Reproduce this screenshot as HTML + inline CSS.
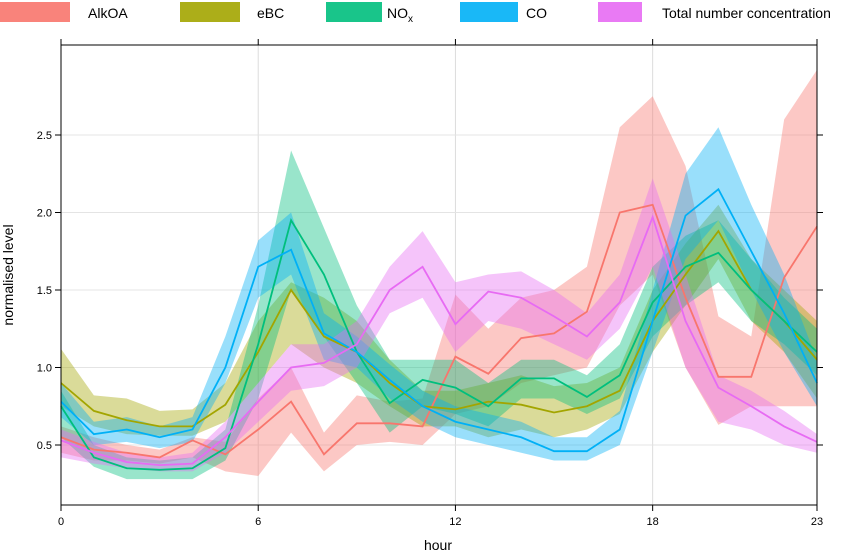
<!DOCTYPE html>
<html><head><meta charset="utf-8"><style>
body{margin:0;background:#fff;font-family:"Liberation Sans",sans-serif;}
svg text{font-family:"Liberation Sans",sans-serif;}
</style></head><body>
<svg id="chart" width="849" height="552" xmlns="http://www.w3.org/2000/svg">
<g id="grid"></g>
<g id="bands"></g>
<g id="lines"></g>
<g id="axes"></g>
<g id="legend"></g>
<text x="438" y="550" font-size="14" text-anchor="middle">hour</text>
<text transform="translate(13,275) rotate(-90)" font-size="14" text-anchor="middle">normalised level</text>
</svg>
<script>
const hours=[0,1,2,3,4,5,6,7,8,9,10,11,12,13,14,15,16,17,18,19,20,21,22,23];
const seriesNames=["AlkOA","eBC","NOx","CO","Total number concentration"];
const seriesColors=["#F8766D","#A3A500","#00BF7D","#00B0F6","#E76BF3"];
const alkMean=[0.55,0.47,0.45,0.42,0.53,0.44,0.6,0.78,0.44,0.64,0.64,0.62,1.07,0.96,1.19,1.22,1.36,2.0,2.05,1.45,0.94,0.94,1.58,1.91];
const alkLo=[0.45,0.4,0.4,0.38,0.42,0.33,0.3,0.58,0.33,0.5,0.52,0.5,0.7,0.75,0.9,0.95,1.0,1.4,1.6,1.0,0.63,0.75,0.75,0.75];
const alkHi=[0.62,0.55,0.5,0.47,0.55,0.52,0.8,1.0,0.58,0.82,0.78,0.8,1.47,1.25,1.45,1.5,1.65,2.55,2.75,2.3,1.33,1.2,2.6,2.92];
const ebcMean=[0.9,0.72,0.66,0.62,0.62,0.76,1.1,1.5,1.2,1.1,0.9,0.75,0.73,0.78,0.76,0.71,0.75,0.85,1.3,1.6,1.88,1.5,1.3,1.05];
const ebcLo=[0.75,0.62,0.57,0.56,0.56,0.65,0.9,1.15,1.0,0.9,0.75,0.62,0.62,0.55,0.6,0.55,0.6,0.7,1.1,1.4,1.7,1.3,1.1,0.8];
const ebcHi=[1.12,0.82,0.8,0.72,0.73,0.9,1.3,1.55,1.45,1.3,1.05,0.85,0.85,0.9,0.95,0.88,0.9,1.0,1.5,1.8,2.05,1.7,1.5,1.3];
const noxMean=[0.75,0.42,0.35,0.34,0.35,0.48,1.15,1.95,1.6,1.1,0.77,0.92,0.87,0.75,0.93,0.93,0.81,0.95,1.42,1.65,1.74,1.5,1.3,1.1];
const noxLo=[0.55,0.36,0.28,0.28,0.28,0.4,0.8,1.5,1.2,0.9,0.58,0.75,0.7,0.62,0.8,0.8,0.7,0.8,1.2,1.4,1.55,1.3,1.15,0.95];
const noxHi=[0.85,0.5,0.42,0.4,0.42,0.6,1.4,2.4,1.9,1.4,1.05,1.05,1.05,0.9,1.05,1.05,0.95,1.15,1.65,1.85,1.95,1.7,1.45,1.25];
const coMean=[0.78,0.57,0.6,0.55,0.6,1.0,1.65,1.76,1.22,1.1,0.92,0.75,0.65,0.6,0.55,0.46,0.46,0.6,1.3,1.98,2.15,1.75,1.35,0.9];
const coLo=[0.68,0.5,0.52,0.48,0.52,0.9,1.45,1.6,1.05,1.0,0.8,0.65,0.55,0.5,0.45,0.4,0.4,0.5,1.1,1.7,1.95,1.5,1.1,0.75];
const coHi=[0.9,0.65,0.68,0.62,0.68,1.2,1.82,2.0,1.35,1.2,1.02,0.85,0.75,0.7,0.65,0.55,0.55,0.72,1.5,2.25,2.55,2.05,1.6,1.05];
const totMean=[0.53,0.45,0.39,0.37,0.38,0.55,0.78,1.0,1.03,1.15,1.5,1.65,1.28,1.49,1.45,1.33,1.2,1.42,1.97,1.3,0.87,0.75,0.62,0.52];
const totLo=[0.42,0.38,0.35,0.33,0.33,0.45,0.65,0.85,0.88,1.0,1.35,1.45,1.1,1.3,1.25,1.15,1.05,1.25,1.65,1.0,0.65,0.6,0.5,0.45];
const totHi=[0.6,0.52,0.45,0.42,0.45,0.65,0.9,1.15,1.15,1.3,1.65,1.88,1.55,1.6,1.62,1.5,1.35,1.6,2.22,1.6,0.95,0.85,0.72,0.57];
const xTicks=[0,6,12,18,23];
const yTicks=[0.5,1.0,1.5,2.0,2.5];
const yTickLabels=["0.5","1.0","1.5","2.0","2.5"];

const NS="http://www.w3.org/2000/svg";
const X0=61,X1=817,YT=45,YB=505;
const xs=h=>X0+(X1-X0)*h/23;
const ys=v=>522.5-155*v;
function mk(tag,attrs,parent){const e=document.createElementNS(NS,tag);for(const k in attrs)e.setAttribute(k,attrs[k]);parent.appendChild(e);return e;}
const grid=document.getElementById('grid'),axes=document.getElementById('axes'),bands=document.getElementById('bands'),lines=document.getElementById('lines'),legend=document.getElementById('legend');
xTicks.forEach(t=>{if(t>0&&t<23){const l=mk('line',{x1:xs(t),x2:xs(t),y1:YT,y2:YB,stroke:'#dcdcdc','stroke-width':1},grid);

}});
yTicks.forEach(t=>{const l=mk('line',{x1:X0,x2:X1,y1:ys(t),y2:ys(t),stroke:'#e4e4e4','stroke-width':1},grid);

});
const means=[alkMean,ebcMean,noxMean,coMean,totMean],los=[alkLo,ebcLo,noxLo,coLo,totLo],his=[alkHi,ebcHi,noxHi,coHi,totHi];
const keys=["alkoa","ebc","nox","co","total"];
means.forEach((m,i)=>{
 let d='M'+hours.map(h=>xs(h)+','+ys(his[i][h])).join('L')+'L'+hours.slice().reverse().map(h=>xs(h)+','+ys(los[i][h])).join('L')+'Z';
 const b=mk('path',{d:d,fill:seriesColors[i],'fill-opacity':0.4,stroke:'none'},bands);
 
 
 const p=mk('polyline',{points:hours.map(h=>xs(h)+','+ys(m[h])).join(' '),fill:'none',stroke:seriesColors[i],'stroke-width':1.8},lines);
 
 
});
const box=mk('rect',{x:X0,y:YT,width:X1-X0,height:YB-YT,fill:'none',stroke:'#000','stroke-width':1},axes);


xTicks.forEach((t,i)=>{mk('line',{x1:xs(t),x2:xs(t),y1:YB,y2:YB+6,stroke:'#000'},axes);mk('line',{x1:xs(t),x2:xs(t),y1:YT,y2:YT-6,stroke:'#000'},axes);
 const tx=mk('text',{x:xs(t),y:YB+20,'font-size':11,'text-anchor':'middle'},axes);tx.textContent=String(t);
 
 });
yTicks.forEach((t,i)=>{mk('line',{x1:X0-6,x2:X0,y1:ys(t),y2:ys(t),stroke:'#000'},axes);mk('line',{x1:X1,x2:X1+6,y1:ys(t),y2:ys(t),stroke:'#000'},axes);
 const tx=mk('text',{x:X0-9,y:ys(t)+4,'font-size':11,'text-anchor':'end'},axes);tx.textContent=yTickLabels[i];
 
 });
const lg=[[0,70,88],[180,240,257],[326,382,387],[460,518,526],[598,642,662]];
lg.forEach((g,i)=>{
 const r=mk('rect',{x:g[0],y:2,width:g[1]-g[0],height:20,fill:seriesColors[i],'fill-opacity':0.9},legend);
 
 
 const t=mk('text',{x:g[2],y:18,'font-size':14},legend);
 
 
 if(i===2){t.textContent='NO';const s=mk('tspan',{'font-size':10,dy:4},t);s.textContent='x';}
 else t.textContent=seriesNames[i];
});
</script>
</body></html>
